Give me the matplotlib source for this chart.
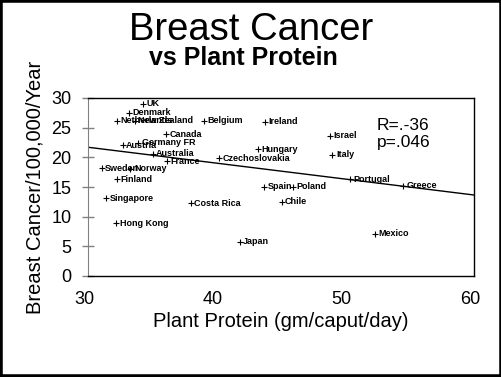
import matplotlib
matplotlib.use("Agg")
import matplotlib.pyplot as plt
import matplotlib.transforms as mtransforms
from matplotlib.patches import Rectangle

plt.rcParams['font.family'] = ['Liberation Sans', 'DejaVu Sans']

# countries: plant protein (gm/caput/day) vs breast cancer rate
countries = ['UK', 'Denmark', 'Netherlands', 'New Zealand', 'Belgium', 'Ireland',
             'Canada', 'Germany FR', 'Austria', 'Australia', 'France', 'Sweden',
             'Norway', 'Finland', 'Singapore', 'Hong Kong', 'Costa Rica', 'Japan',
             'Czechoslovakia', 'Hungary', 'Israel', 'Italy', 'Portugal', 'Greece',
             'Spain', 'Poland', 'Chile', 'Mexico']
protein = [34.3, 33.15, 32.25, 33.65, 39.0, 43.75,
           36.06, 33.9, 32.7, 35.03, 36.16, 31.06,
           33.3, 32.28, 31.4, 32.18, 38.0, 41.8,
           40.2, 43.23, 48.8, 49.0, 50.36, 54.5,
           43.7, 45.95, 45.05, 52.3]
cancer = [29.0, 27.5, 26.2, 26.2, 26.2, 26.0,
          23.9, 22.5, 22.0, 20.6, 19.3, 18.2,
          18.1, 16.3, 13.1, 8.9, 12.25, 5.8,
          19.85, 21.35, 23.6, 20.4, 16.3, 15.2,
          15.05, 15.05, 12.5, 7.1]

# regression line end points
trend_x = [30, 60]
trend_y = [21.7, 13.65]

x_ticks = [30, 40, 50, 60]
y_ticks = [0, 5, 10, 15, 20, 25, 30]

W, H = 502, 377

fig = plt.figure(figsize=(W/100, H/100), dpi=100)
ax = fig.add_axes([88/W, 1-276/H, 386/W, 178/H])

ax.plot(trend_x, trend_y, color='black', lw=1)
ax.plot(protein, cancer, '+', color='black', ms=5, mew=0.8)
for name, px, py in zip(countries, protein, cancer):
    ax.annotate(name, (px, py), xytext=(2.5, 0), textcoords='offset points',
                ha='left', va='center', fontsize=6.5, fontweight='bold')

ax.set_xlim(30, 60)
ax.set_ylim(0, 30)
ax.set_xticks(x_ticks)
ax.set_yticks(y_ticks)

ax.spines['left'].set_color('#808080')
for s in ['top', 'right', 'bottom']:
    ax.spines[s].set_color('black')
    ax.spines[s].set_linewidth(1)

ax.tick_params(axis='y', direction='inout', length=8, width=1, color='#808080',
               labelsize=13, pad=8)
ax.tick_params(axis='x', length=0, labelsize=13, pad=11)

# x tick labels sit a little left of their positions
shift = mtransforms.ScaledTranslation(-4/100, 0, fig.dpi_scale_trans)
for lab in ax.get_xticklabels():
    lab.set_transform(lab.get_transform() + shift)

# correlation stats
fig.text(377/W, 1-130/H, 'R=.-36', ha='left', va='baseline', fontsize=12.5)
fig.text(377/W, 1-147/H, 'p=.046', ha='left', va='baseline', fontsize=12.5)

fig.text(251/W, 1-40/H, 'Breast Cancer', ha='center', va='baseline', fontsize=27.5)
fig.text(243/W, 1-65/H, 'vs Plant Protein', ha='center', va='baseline',
         fontsize=18, fontweight='bold')
fig.text(281/W, 1-327/H, 'Plant Protein (gm/caput/day)', ha='center',
         va='baseline', fontsize=14.5)
fig.text(35/W, 1-187/H, 'Breast Cancer/100,000/Year', ha='center',
         va='center', rotation=90, fontsize=14.5)

fig.patches.append(Rectangle((0, 0), 1, 1, transform=fig.transFigure, fill=False,
                             edgecolor='black', lw=4))

fig.savefig('out.png', dpi=100)
